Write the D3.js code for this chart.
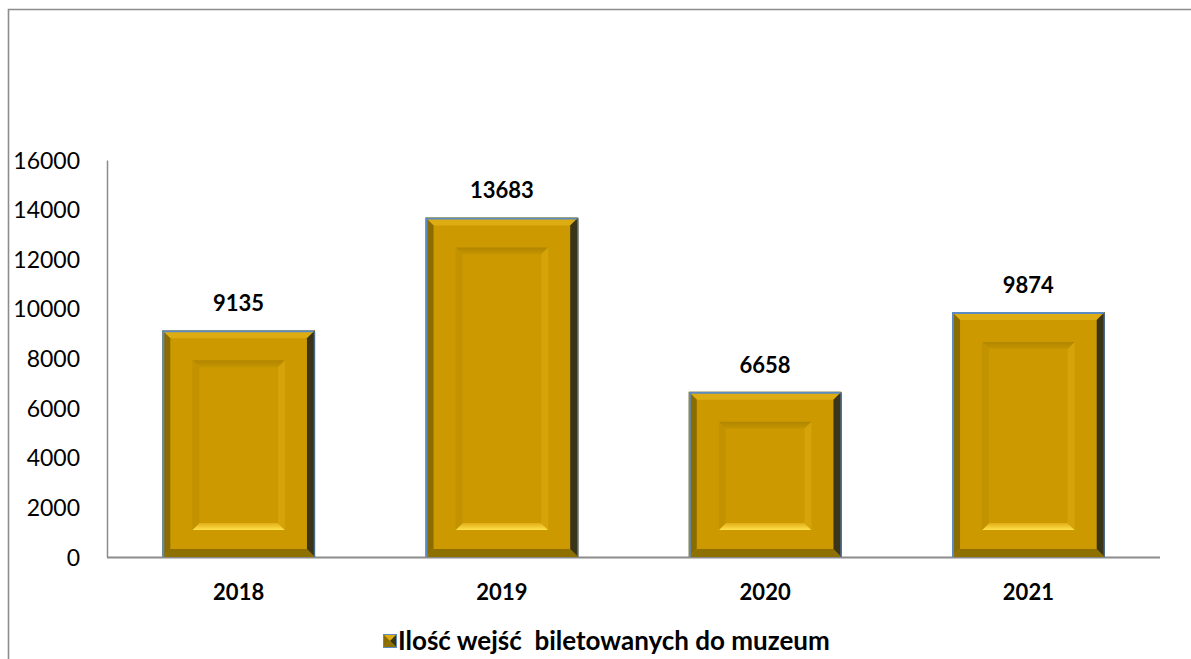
<!DOCTYPE html>
<html><head><meta charset="utf-8">
<script src="https://cdn.jsdelivr.net/npm/d3@7"></script>
<style>body{margin:0;background:#fff}svg{display:block;font-family:Lato,"Open Sans",sans-serif}</style>
</head><body>
<svg id="c" width="1191" height="659"></svg>
<script>
const categories = ["2018","2019","2020","2021"];
const values = [9135,13683,6658,9874];
const yTicks = [0,2000,4000,6000,8000,10000,12000,14000,16000];
const seriesName = "Ilość wejść  biletowanych do muzeum";

(function(){
const svg = d3.select("#c");
const pL = 107, pR = 1160, pT = 160, pB = 557;
const x = d3.scaleBand().domain(categories).range([pL, pR]).paddingInner(0.42).paddingOuter(0.21);
const y = d3.scaleLinear().domain([0,16000]).range([pB, pT]);

svg.append("path").attr("d",`M8.5,659 V9.5 H1191`).attr("fill","none").attr("stroke","#8c8c8c").attr("stroke-width",1.6);

const yAxis = d3.axisLeft(y).tickValues(yTicks).tickSize(0).tickPadding(27).tickFormat(d3.format("d"));
const gy = svg.append("g").attr("transform",`translate(${pL},0)`).call(yAxis);
gy.attr("font-family",null);
gy.select(".domain").attr("stroke","#8c8c8c").attr("stroke-width",1.5);
gy.selectAll("text").attr("font-size",23).attr("fill","#000").attr("dy","0.35em");

const xAxis = d3.axisBottom(x).tickSize(0).tickPadding(27);
const gx = svg.append("g").attr("transform",`translate(0,${pB})`).call(xAxis);
gx.attr("font-family",null);
gx.select(".domain").attr("stroke","#8c8c8c").attr("stroke-width",2).attr("d",`M${pL},0.5H${pR}`);
gx.selectAll("text").attr("font-size",22).attr("font-weight","bold").attr("fill","#000").attr("dy","0.71em");

const defs = svg.append("defs");
const g1 = defs.append("linearGradient").attr("id","hl").attr("x1",0).attr("y1",0).attr("x2",0).attr("y2",1);
g1.append("stop").attr("offset","0").attr("stop-color","#e2ae16");
g1.append("stop").attr("offset","1").attr("stop-color","#ffe04a");
const g2 = defs.append("linearGradient").attr("id","tp").attr("x1",0).attr("y1",0).attr("x2",0).attr("y2",1);
g2.append("stop").attr("offset","0").attr("stop-color","#b08500");
g2.append("stop").attr("offset","1").attr("stop-color","#c59500");

function quad(pts){return "M"+pts.map(p=>p.join(",")).join("L")+"Z";}

const bars = svg.append("g");
categories.forEach((c,i)=>{
  const x0 = x(c), x1 = x(c)+x.bandwidth(), y0 = y(values[i]), y1 = y(0);
  const g = bars.append("g");
  const b = 8;
  g.append("rect").attr("x",x0).attr("y",y0).attr("width",x1-x0).attr("height",y1-y0).attr("fill","#cc9a00");
  g.append("path").attr("d",quad([[x0,y0],[x1,y0],[x1-b,y0+b],[x0+b,y0+b]])).attr("fill","#dcac12");
  g.append("path").attr("d",quad([[x0,y1],[x1,y1],[x1-b,y1-b],[x0+b,y1-b]])).attr("fill","#8e7000");
  g.append("path").attr("d",quad([[x0,y0],[x0+b,y0+b],[x0+b,y1-b],[x0,y1]])).attr("fill","#8a6c00");
  g.append("path").attr("d",quad([[x1,y0],[x1-b,y0+b],[x1-b,y1-b],[x1,y1]])).attr("fill","#3a3419");
  const ins = 30, ib = 7;
  const ix0 = x0+ins, ix1 = x1-ins, iy0 = y0+ins, iy1 = y1-ins+3;
  if (iy1 > iy0+2*ib) {
    g.append("rect").attr("x",ix0).attr("y",iy0).attr("width",ix1-ix0).attr("height",iy1-iy0).attr("fill","#cc9a00");
    g.append("path").attr("d",quad([[ix0,iy0],[ix1,iy0],[ix1-ib,iy0+ib],[ix0+ib,iy0+ib]])).attr("fill","url(#tp)");
    g.append("path").attr("d",quad([[ix0,iy1],[ix1,iy1],[ix1-ib,iy1-ib],[ix0+ib,iy1-ib]])).attr("fill","url(#hl)");
    g.append("path").attr("d",quad([[ix0,iy0],[ix0+ib,iy0+ib],[ix0+ib,iy1-ib],[ix0,iy1]])).attr("fill","#c29200");
    g.append("path").attr("d",quad([[ix1,iy0],[ix1-ib,iy0+ib],[ix1-ib,iy1-ib],[ix1,iy1]])).attr("fill","#d6a408");
  }
  g.append("path").attr("d",`M${x0+1},${y1}V${y0+1}H${x1-1}`).attr("fill","none").attr("stroke","#5b8bc4").attr("stroke-width",2);
  g.append("path").attr("d",`M${x1-0.5},${y0+1}V${y1}`).attr("fill","none").attr("stroke","#4a6a8c").attr("stroke-width",1.5);
  svg.append("text").attr("x",x0+x.bandwidth()/2).attr("y",y0-19).attr("text-anchor","middle")
    .attr("font-size",22).attr("font-weight","bold").attr("fill","#000").text(values[i]);
});

const lg = svg.append("g").attr("transform","translate(383,634)");
const s = 14;
lg.append("rect").attr("x",0).attr("y",0).attr("width",s).attr("height",s).attr("fill","#cc9a00");
lg.append("path").attr("d",quad([[0,0],[s,0],[s/2,s/2]])).attr("fill","#dcac12");
lg.append("path").attr("d",quad([[0,0],[s/2,s/2],[0,s]])).attr("fill","#8a6c00");
lg.append("path").attr("d",quad([[s,0],[s/2,s/2],[s,s]])).attr("fill","#3a3419");
lg.append("path").attr("d",quad([[0,s],[s/2,s/2],[s,s]])).attr("fill","#8e7000");
lg.append("rect").attr("x",0.5).attr("y",0.5).attr("width",s-1).attr("height",s-1).attr("fill","none").attr("stroke","#5b8bc4").attr("stroke-width",1);
lg.append("text").attr("x",15).attr("y",s/2).attr("dy","0.36em").attr("font-size",26).attr("font-weight","bold").attr("fill","#000")
  .style("white-space","pre").text(seriesName);
})();
</script>
</body></html>
